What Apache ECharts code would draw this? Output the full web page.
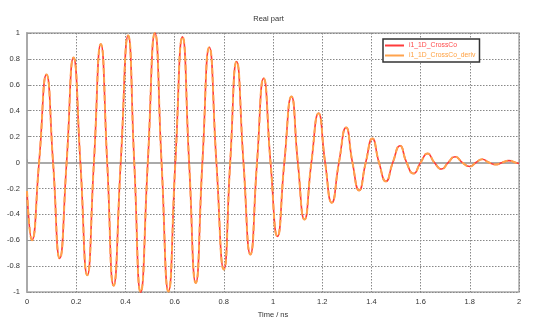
<!DOCTYPE html>
<html>
<head>
<meta charset="utf-8">
<script src="https://cdn.jsdelivr.net/npm/echarts@6/dist/echarts.min.js"></script>
<style>html,body{margin:0;padding:0;background:#fff}#c{width:537px;height:324px}</style>
</head>
<body>
<div id="c"></div>
<script>
var seriesNames = ['i1_1D_CrossCo', 'i1_1D_CrossCo_deriv'];
var times = [0, 0.020, 0.049, 0.079, 0.106, 0.133, 0.161, 0.189, 0.217, 0.245, 0.272, 0.300, 0.326, 0.352, 0.381, 0.411, 0.436, 0.462, 0.491, 0.520, 0.547, 0.575, 0.603, 0.632, 0.659, 0.686, 0.713, 0.741, 0.770, 0.800, 0.826, 0.852, 0.880, 0.908, 0.935, 0.962, 0.990, 1.018, 1.046, 1.075, 1.101, 1.128, 1.156, 1.185, 1.212, 1.239, 1.268, 1.297, 1.323, 1.350, 1.377, 1.404, 1.431, 1.459, 1.487, 1.516, 1.543, 1.571, 1.600, 1.628, 1.656, 1.685, 1.712, 1.740, 1.770, 1.800, 1.825, 1.851, 1.878, 1.905, 1.932, 1.959, 1.985, 2.000];
var crossCo = [-0.22, -0.60, 0, 0.68, 0, -0.74, 0, 0.81, 0, -0.87, 0, 0.915, 0, -0.95, 0, 0.98, 0, -1.00, 0, 1.00, 0, -0.995, 0, 0.97, 0, -0.93, 0, 0.89, 0, -0.825, 0, 0.78, 0, -0.71, 0, 0.65, 0, -0.57, 0, 0.51, 0, -0.44, 0, 0.38, 0, -0.31, 0, 0.27, 0, -0.215, 0, 0.185, 0, -0.145, 0, 0.13, 0, -0.085, 0, 0.07, 0, -0.05, 0, 0.045, 0, -0.03, 0, 0.025, 0, -0.015, 0, 0.015, 0, -0.008];
var crossCoDeriv = [-0.22, -0.60, 0, 0.68, 0, -0.74, 0, 0.81, 0, -0.87, 0, 0.915, 0, -0.95, 0, 0.98, 0, -1.00, 0, 1.00, 0, -0.995, 0, 0.97, 0, -0.93, 0, 0.89, 0, -0.825, 0, 0.78, 0, -0.71, 0, 0.65, 0, -0.57, 0, 0.51, 0, -0.44, 0, 0.38, 0, -0.31, 0, 0.27, 0, -0.215, 0, 0.185, 0, -0.145, 0, 0.13, 0, -0.085, 0, 0.07, 0, -0.05, 0, 0.045, 0, -0.03, 0, 0.025, 0, -0.015, 0, 0.015, 0, -0.008];

function pairs(xs, ys) { return xs.map(function (x, i) { return [x, ys[i]]; }); }

var FONT = 'Liberation Sans';
var chart = echarts.init(document.getElementById('c'), null, {renderer: 'canvas'});
chart.setOption({
  animation: false,
  backgroundColor: '#fff',
  title: {
    text: 'Real part', left: 'center', top: 10,
    textStyle: {fontFamily: FONT, fontSize: 7.5, fontWeight: 'normal', color: '#333'}
  },
  legend: {
    orient: 'vertical', left: 383, top: 39,
    backgroundColor: '#fff', borderColor: '#333', borderWidth: 1.5, borderRadius: 0,
    padding: [3, 4, 3, 2], itemGap: 3, itemWidth: 19, itemHeight: 2, icon: 'rect',
    textStyle: {fontFamily: FONT, fontSize: 6.8},
    data: [
      {name: seriesNames[0], textStyle: {color: '#ff4a4a'}},
      {name: seriesNames[1], textStyle: {color: '#ffa040'}}
    ]
  },
  grid: {left: 27, right: 18, top: 33, bottom: 31, show: true, borderColor: '#aaa', borderWidth: 1.5},
  xAxis: {
    type: 'value', min: 0, max: 2, interval: 0.2,
    name: 'Time / ns', nameLocation: 'middle', nameGap: 17,
    nameTextStyle: {fontFamily: FONT, fontSize: 7.5, color: '#333'},
    axisLine: {show: true, lineStyle: {color: '#aaa', width: 2}},
    axisTick: {show: true, inside: true, length: 3, lineStyle: {color: '#999'}},
    axisLabel: {fontFamily: FONT, fontSize: 7.5, color: '#333', margin: 6},
    splitLine: {show: true, lineStyle: {color: '#888', type: [1.5, 1.5], width: 1}}
  },
  yAxis: {
    type: 'value', min: -1, max: 1, interval: 0.2,
    axisLine: {show: true, lineStyle: {color: '#aaa', width: 2}},
    axisTick: {show: true, inside: true, length: 3, lineStyle: {color: '#999'}},
    axisLabel: {fontFamily: FONT, fontSize: 7.5, color: '#333', margin: 7},
    splitLine: {show: true, lineStyle: {color: '#888', type: [1.5, 1.5], width: 1}}
  },
  series: [
    {
      name: seriesNames[0], type: 'line', data: pairs(times, crossCo),
      smooth: 0.55, showSymbol: false, symbol: 'none',
      lineStyle: {color: '#ff3b3b', width: 1.6}, itemStyle: {color: '#ff3b3b'}
    },
    {
      name: seriesNames[1], type: 'line', data: pairs(times, crossCoDeriv),
      smooth: 0.55, showSymbol: false, symbol: 'none',
      lineStyle: {color: '#ffa34d', width: 2, type: [6, 3]}, itemStyle: {color: '#ffa34d'}
    }
  ]
});
</script>
</body>
</html>
